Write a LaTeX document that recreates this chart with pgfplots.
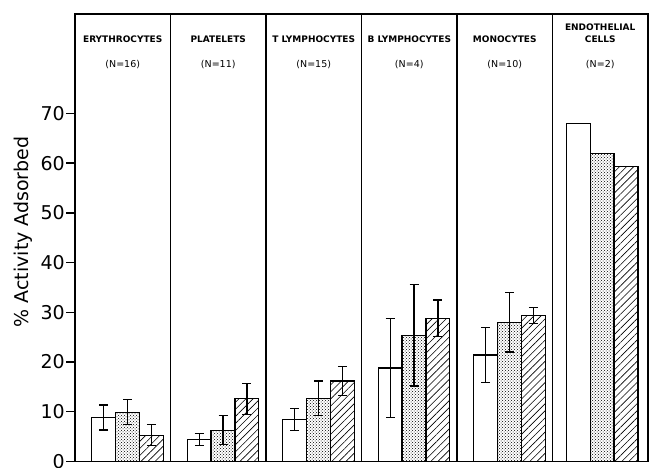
\documentclass[border=0pt]{standalone}
\usepackage{pgfplots}
\pgfplotsset{compat=1.18}
\usetikzlibrary{patterns,patterns.meta}
\usepackage{fontspec}
\setmainfont{DejaVu Sans}
\begin{document}
\begin{tikzpicture}
\begin{axis}[
  at={(75pt,6.5pt)}, anchor=south west,
  scale only axis, width=573pt, height=447.5pt,
  xmin=0, xmax=6, ymin=0, ymax=90,
  axis line style={line width=1.4pt},
  ytick={0,10,...,70}, ytick pos=left,
  tick align=outside, major tick length=9pt,
  y tick style={line width=1.4pt, black},
  xtick={1,2,3,4,5}, xticklabels={}, x tick style={draw=none},
  xmajorgrids, major x grid style={black, line width=1.3pt},
  yticklabel style={font=\fontsize{19}{19}\selectfont, inner sep=1pt},
  /pgf/number format/assume math mode=true,
  ylabel={\% Activity Adsorbed},
  ylabel style={font=\fontsize{19}{19}\selectfont, at={(axis description cs:-0.091,0.513)}, anchor=center},
  error bars/error bar style={line width=1.3pt},
  error bars/error mark options={rotate=90, mark size=4.5pt, line width=1.3pt},
]
% series 1 (open)
\addplot[ybar, bar width=0.25, bar shift=0pt, fill=white, draw=black, line width=1.2pt,
  error bars/.cd, y dir=both, y explicit] coordinates {
  (0.30,8.85) +- (0,2.5)
  (1.30,4.4) +- (0,1.2)
  (2.30,8.4) +- (0,2.2)
  (3.30,18.8) +- (0,10.0)
  (4.30,21.4) +- (0,5.5)
};
\addplot[ybar, bar width=0.25, bar shift=0pt, fill=white, draw=black, line width=1.2pt] coordinates {
  (5.27,68.0)
};
% series 2 (dotted)
\addplot[ybar, bar width=0.25, bar shift=0pt, pattern=crosshatch dots, draw=black, line width=1.2pt,
  error bars/.cd, y dir=both, y explicit] coordinates {
  (0.55,9.9) +- (0,2.5)
  (1.55,6.3) +- (0,2.9)
  (2.55,12.7) +- (0,3.5)
  (3.55,25.4) +- (0,10.2)
  (4.55,28.0) +- (0,6.0)
};
\addplot[ybar, bar width=0.25, bar shift=0pt, pattern=crosshatch dots, draw=black, line width=1.2pt] coordinates {
  (5.52,61.9)
};
% series 3 (hatched)
\addplot[ybar, bar width=0.25, bar shift=0pt, pattern={Lines[angle=45, distance=5pt, line width=0.6pt]}, draw=black, line width=1.2pt,
  error bars/.cd, y dir=both, y explicit] coordinates {
  (0.80,5.3) +- (0,2.1)
  (1.80,12.6) +- (0,3.1)
  (2.80,16.2) +- (0,2.9)
  (3.80,28.8) +- (0,3.7)
  (4.80,29.4) +- (0,1.6)
};
\addplot[ybar, bar width=0.25, bar shift=0pt, pattern={Lines[angle=45, distance=5pt, line width=0.6pt]}, draw=black, line width=1.2pt] coordinates {
  (5.77,59.4)
};
% panel labels
\begin{scope}[every node/.style={font=\bfseries\fontsize{9}{12}\selectfont, inner sep=0pt}]
\node at (axis cs:0.5,85) {ERYTHROCYTES};
\node at (axis cs:1.5,85) {PLATELETS};
\node at (axis cs:2.5,85) {T LYMPHOCYTES};
\node at (axis cs:3.5,85) {B LYMPHOCYTES};
\node at (axis cs:4.5,85) {MONOCYTES};
\node[align=center] at (axis cs:5.5,86.1) {ENDOTHELIAL\\CELLS};
\end{scope}
\begin{scope}[every node/.style={font=\fontsize{9.5}{11}\selectfont, inner sep=0pt}]
\node at (axis cs:0.5,79.8) {(N=16)};
\node at (axis cs:1.5,79.8) {(N=11)};
\node at (axis cs:2.5,79.8) {(N=15)};
\node at (axis cs:3.5,79.8) {(N=4)};
\node at (axis cs:4.5,79.8) {(N=10)};
\node at (axis cs:5.5,79.8) {(N=2)};
\end{scope}
\end{axis}
\pgfresetboundingbox
\path[use as bounding box] (0,0) rectangle (653pt,468pt);
\end{tikzpicture}
\end{document}
